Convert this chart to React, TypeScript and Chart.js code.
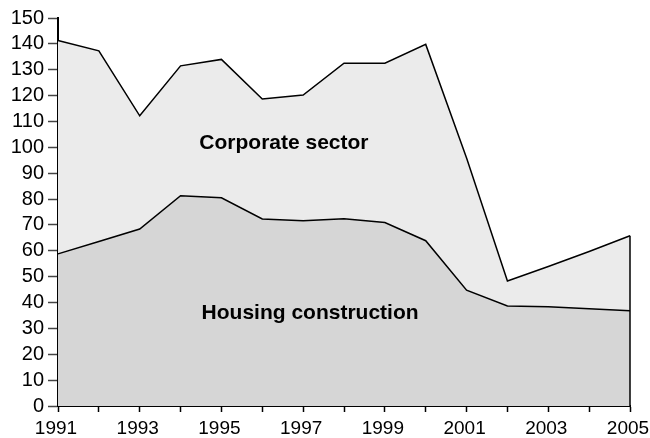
import React, { useEffect, useRef } from "react";
import { Chart, registerables } from "chart.js";

Chart.register(...registerables);

const years = ["1991","1992","1993","1994","1995","1996","1997","1998","1999","2000","2001","2002","2003","2004","2005"];
const housing = [58.8, 63.6, 68.4, 81.3, 80.5, 72.3, 71.6, 72.4, 70.9, 63.9, 44.8, 38.7, 38.4, 37.6, 36.8];
const corporate = [82.5, 73.7, 43.8, 50.2, 53.5, 46.4, 48.6, 60.1, 61.6, 75.9, 51.1, 9.6, 15.5, 22.1, 29.0];
const seriesNames = ["Housing construction", "Corporate sector"];
const yMin = 0;
const yMax = 150;
const yStep = 10;

const FONT = "'Liberation Sans', Arial, Helvetica, sans-serif";

const areaLabels = {
  id: "areaLabels",
  afterDatasetsDraw(chart: any) {
    const { ctx, scales } = chart;
    const x = scales.x;
    const y = scales.y;
    const last = years.length - 1;
    ctx.save();
    ctx.strokeStyle = "#000";
    ctx.lineWidth = 1.5;
    ctx.beginPath();
    const xr = x.getPixelForValue(last);
    ctx.moveTo(xr, y.getPixelForValue(housing[last] + corporate[last]));
    ctx.lineTo(xr, y.getPixelForValue(0));
    ctx.stroke();

    ctx.fillStyle = "#000";
    ctx.font = `bold 21px ${FONT}`;
    ctx.textAlign = "center";
    ctx.textBaseline = "middle";
    ctx.fillText(seriesNames[1], x.getPixelForValue(5.53), y.getPixelForValue(101.7));
    ctx.fillText(seriesNames[0], x.getPixelForValue(6.17), y.getPixelForValue(35.9));
    ctx.restore();
  },
};

export default function App() {
  const ref = useRef<HTMLCanvasElement | null>(null);
  useEffect(() => {
    document.body.style.margin = "0";
    const chart = new Chart(ref.current as HTMLCanvasElement, {
      type: "line",
      data: {
        labels: years,
        datasets: [
          {
            label: seriesNames[0],
            data: housing,
            backgroundColor: "#d6d6d6",
            borderColor: "#000",
            borderWidth: 1.5,
            pointRadius: 0,
            fill: "origin",
            tension: 0,
          },
          {
            label: seriesNames[1],
            data: corporate,
            backgroundColor: "#ebebeb",
            borderColor: "#000",
            borderWidth: 1.5,
            pointRadius: 0,
            fill: "-1",
            tension: 0,
          },
        ],
      },
      options: {
        responsive: false,
        animation: false,
        layout: { padding: { top: 18, right: 20, left: 0, bottom: 0 } },
        plugins: { legend: { display: false }, tooltip: { enabled: false } },
        scales: {
          x: {
            offset: false,
            grid: { display: true, drawOnChartArea: false, drawTicks: true, tickLength: 6, tickColor: "#000", tickWidth: 1.5 },
            border: { display: true, color: "#000", width: 2 },
            ticks: {
              autoSkip: false,
              maxRotation: 0,
              padding: 5,
              labelOffset: -2,
              color: "#000",
              font: { family: FONT, size: 19 },
              callback: (v: any, i: number) => (i % 2 === 0 ? years[i] : ""),
            },
            afterFit: (s: any) => { s.height = 32; s.paddingLeft = 0; s.paddingRight = 0; },
          },
          y: {
            stacked: true,
            min: yMin,
            max: yMax,
            grid: { display: true, drawOnChartArea: false, drawTicks: true, tickLength: 10, tickColor: "#444", tickWidth: 1.5 },
            border: { display: true, color: "#000", width: 2 },
            ticks: {
              autoSkip: false,
              stepSize: yStep,
              padding: 4,
              color: "#000",
              font: { family: FONT, size: 20 },
            },
            afterFit: (s: any) => { s.width = 58; s.paddingTop = 0; s.paddingBottom = 0; },
          },
        },
      },
      plugins: [areaLabels],
    });
    return () => chart.destroy();
  }, []);
  return (
    <div style={{ position: "absolute", left: 0, top: 0, width: 650, height: 438 }}>
      <canvas ref={ref} width={650} height={438} style={{ display: "block" }} />
    </div>
  );
}
